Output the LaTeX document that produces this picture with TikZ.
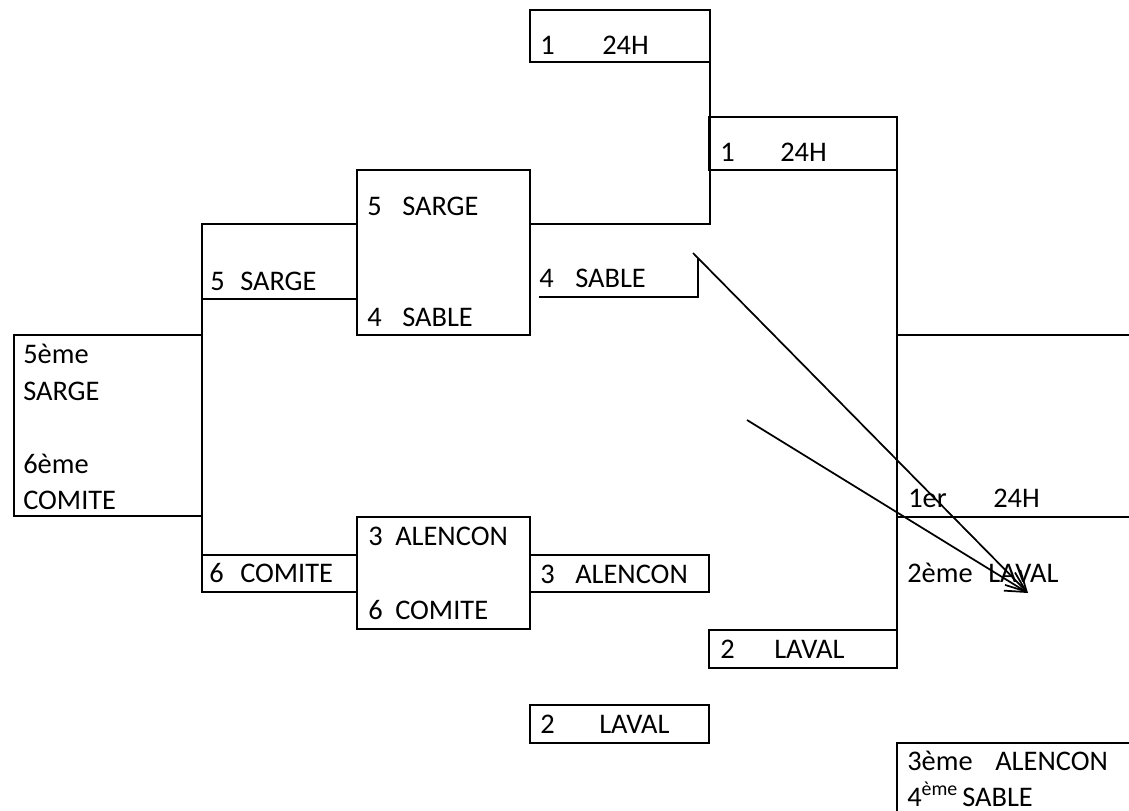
\documentclass[tikz,border=0pt]{standalone}
\usepackage{fontspec}
\setmainfont{Carlito}
\usepackage{tikz}
\usetikzlibrary{arrows.meta,positioning,calc}

\newlength{\unitpx}
\setlength{\unitpx}{0.75pt}
\newcommand{\pair}[3]{\makebox[#1\unitpx][l]{#2}#3}

\tikzset{
  cell/.style={draw,line width=1.7pt,inner sep=0pt,outer sep=0pt,anchor=north west},
  link/.style={line width=1.7pt},
  lbl/.style={anchor=base west,inner sep=0pt,font=\fontsize{21.3pt}{26pt}\selectfont},
  pick/.style={line width=1.3pt,-{Straight Barb[length=15pt,width=16pt]}}
}

\begin{document}
\begin{tikzpicture}[x=0.75pt,y=-0.75pt]
  \useasboundingbox (0,0) rectangle (1129,811);
  \clip (0,0) rectangle (1129,811);
  % cases du tableau
  \node[cell,minimum width=141pt,minimum height=135.75pt] (poule) at (14,335) {}; % poule 5e/6e
  \node[cell,minimum width=116.25pt,minimum height=56.25pt] (sarge) at (202,224) {}; % 5 SARGE
  \node[cell,minimum width=116.25pt,minimum height=27.75pt] (comite) at (202,555) {}; % 6 COMITE
  \node[cell,minimum width=129.75pt,minimum height=123.75pt] (quartA) at (357,170) {}; % SARGE / SABLE
  \node[cell,minimum width=129.75pt,minimum height=84pt] (quartB) at (357,517) {}; % ALENCON / COMITE
  \node[cell,minimum width=135pt,minimum height=39pt] (tete) at (530,10) {}; % 1 24H (tete de serie)
  \node[cell,minimum width=134.25pt,minimum height=27.75pt] (alencon) at (530,555) {}; % 3 ALENCON
  \node[cell,minimum width=134.25pt,minimum height=28.5pt] (lavalB) at (530,705) {}; % 2 LAVAL (bas)
  \node[cell,minimum width=141pt,minimum height=39.75pt] (demiA) at (709,117) {}; % 1 24H
  \node[cell,minimum width=141pt,minimum height=28.5pt] (lavalA) at (709,630) {}; % 2 LAVAL
  \node[cell,minimum width=200pt,minimum height=80pt] (podium) at (897,743) {}; % 3e / 4e (coupe par le bord)

  % points libres
  \coordinate (bordA) at (1129,335);
  \coordinate (bordB) at (1129,517);
  \coordinate (sableG) at (539,297);
  \coordinate (sableD) at (698,258);
  \coordinate (depA) at (693,253);
  \coordinate (depB) at (747,420);
  \coordinate (pointe) at (1028,593);

  % traits du tableau
  \draw[link] (poule.north east) -- (sarge.south west); % montee vers 5 SARGE
  \draw[link] (poule.south east) -- (comite.north west); % descente vers 6 COMITE
  \draw[link] (tete.south east) |- (quartA.east |- sarge.north); % SARGE/SABLE vers 1 24H
  \draw[link] (demiA.north east) -- (lavalA.north east); % grand trait vertical de la finale
  \draw[link] (demiA.east |- poule.north) -- (bordA); % trait vers le bord droit
  \draw[link] (demiA.east |- quartB.north) -- (bordB); % trait 1er 24H
  \draw[link] (sableG) -| (sableD); % 4 SABLE ouvert

  % fleches
  \draw[pick] (depA) -- (pointe);
  \draw[pick] (depB) -- (pointe);

  % textes
  \node[lbl] (tP1) at (23,363) {5ème};
  \node[lbl] (tP2) at (23,400) {SARGE};
  \node[lbl] (tP3) at (23,473) {6ème};
  \node[lbl] (tP4) at (23,509) {COMITE};
  \node[lbl] (tS) at (210,290) {\pair{30}{5}{SARGE}};
  \node[lbl] (tC) at (209,582) {\pair{31}{6}{COMITE}};
  \node[lbl] (tQA1) at (367,215) {\pair{35}{5}{SARGE}};
  \node[lbl] (tQA2) at (367,326) {\pair{35}{4}{SABLE}};
  \node[lbl] (tQB1) at (368,545) {\pair{27}{3}{ALENCON}};
  \node[lbl] (tQB2) at (368,619) {\pair{27}{6}{COMITE}};
  \node[lbl] (tT) at (540,54) {\pair{62}{1}{24H}};
  \node[lbl] (tSb) at (539,287) {\pair{36}{4}{SABLE}};
  \node[lbl] (tA) at (540,583) {\pair{35}{3}{ALENCON}};
  \node[lbl] (tLB) at (540,733) {\pair{59}{2}{LAVAL}};
  \node[lbl] (tDA) at (720,161) {\pair{60}{1}{24H}};
  \node[lbl] (tLA) at (720,658) {\pair{54}{2}{LAVAL}};
  \node[lbl] (tF1) at (908,507) {\pair{85}{1er}{24H}};
  \node[lbl] (tF2) at (907,582) {\pair{81}{2ème}{LAVAL}};
  \node[lbl] (tR3) at (907,770) {\pair{88}{3ème}{ALENCON}};
  \node[lbl] (tR4) at (907,806) {\pair{55}{4\textsuperscript{ème}}{SABLE}};
\end{tikzpicture}
\end{document}
